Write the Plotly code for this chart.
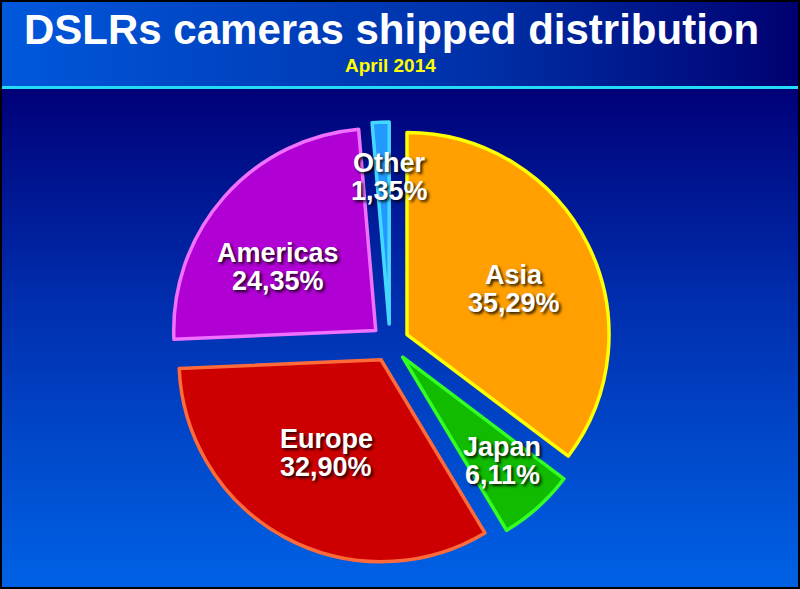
import math
import plotly.graph_objects as go

# ---------------- data ----------------
regions = ["Asia", "Japan", "Europe", "Americas", "Other"]
shares = [35.29, 6.11, 32.90, 24.35, 1.35]
share_labels = ["35,29%", "6,11%", "32,90%", "24,35%", "1,35%"]
title_text = "DSLRs cameras shipped distribution"
subtitle_text = "April 2014"

# ---------------- style ----------------
W, H = 800, 589
fill_colors = ["#FFA000", "#10BB00", "#CC0000", "#B000D4", "#2299FF"]
line_colors = ["#FFFF00", "#33FF22", "#FF6A3A", "#F070FF", "#44D8FF"]
CX, CY = 390, 343          # pie centre in pixels
R = 202                    # pie radius in pixels
PULL_PX = 19               # explode distance in pixels
pull = PULL_PX / R
# label placement: fraction of radius and small angular tweak (degrees)
label_r = [0.574, 0.713, 0.535, 0.579, 0.729]
label_dtheta = [3.2, -1.9, 2.1, -8.3, 2.4]
FONT = "Liberation Sans, Arial, sans-serif"

side = 2 * R * (1 + pull)
xc, yc = CX / W, 1 - CY / H
dom_x = [xc - side / W / 2, xc + side / W / 2]
dom_y = [yc - side / H / 2, yc + side / H / 2]

fig = go.Figure()

# background panels (gradients) on a hidden cartesian axis
fig.add_trace(go.Scatter(
    x=[0, W, W, 0, 0], y=[0, 0, 502, 502, 0], mode="lines", fill="toself",
    line=dict(width=0), hoverinfo="skip", showlegend=False,
    fillgradient=dict(type="vertical", colorscale=[[0, "#0062E6"], [0.55, "#0030B0"], [1, "#000078"]])))
fig.add_trace(go.Scatter(
    x=[0, W, W, 0, 0], y=[502, 502, H, H, 502], mode="lines", fill="toself",
    line=dict(width=0), hoverinfo="skip", showlegend=False,
    fillgradient=dict(type="horizontal", colorscale=[[0, "#0058DC"], [0.6, "#0030A8"], [1, "#000070"]])))

fig.add_trace(go.Pie(
    labels=regions, values=shares, sort=False, direction="clockwise", rotation=0,
    pull=[pull] * len(shares),
    marker=dict(colors=fill_colors, line=dict(color=line_colors, width=3.5)),
    textinfo="none", hoverinfo="label+percent", showlegend=False,
    domain=dict(x=dom_x, y=dom_y)))

# labels computed from the data
annotations = []
total = sum(shares)
cum = 0.0
for i, (name, v, lab) in enumerate(zip(regions, shares, share_labels)):
    mid = (cum + v / 2) / total * 360
    cum += v
    rad = math.radians(mid)
    ax = CX + PULL_PX * math.sin(rad)
    ay = CY - PULL_PX * math.cos(rad)
    rad2 = math.radians(mid + label_dtheta[i])
    px = ax + label_r[i] * R * math.sin(rad2)
    py = ay - label_r[i] * R * math.cos(rad2)
    for text, dy in ((name, -14), (lab, 14)):
        annotations.append(dict(
            x=px / W, y=1 - (py + dy) / H, xref="paper", yref="paper",
            text=text, showarrow=False, xanchor="center", yanchor="middle",
            font=dict(family=FONT, size=27, color="white", weight="bold",
                      shadow="2px 2px 3px rgba(0,0,0,0.85)")))

annotations.append(dict(x=391 / W, y=1 - 29.5 / H, xref="paper", yref="paper",
                        text=title_text, showarrow=False, xanchor="center", yanchor="middle",
                        font=dict(family=FONT, size=42, color="white", weight="bold")))
annotations.append(dict(x=390 / W, y=1 - 65 / H, xref="paper", yref="paper",
                        text=subtitle_text, showarrow=False, xanchor="center", yanchor="middle",
                        font=dict(family=FONT, size=19, color="#FFFF00", weight="bold")))

fig.update_layout(
    width=W, height=H, margin=dict(l=0, r=0, t=0, b=0),
    paper_bgcolor="#000080", plot_bgcolor="rgba(0,0,0,0)",
    xaxis=dict(range=[0, W], visible=False, fixedrange=True, domain=[0, 1]),
    yaxis=dict(range=[0, H], visible=False, fixedrange=True, domain=[0, 1]),
    annotations=annotations,
    shapes=[
        dict(type="line", xref="paper", yref="paper", x0=0, x1=1,
             y0=1 - 87.5 / H, y1=1 - 87.5 / H, line=dict(color="#22DDF5", width=3)),
        dict(type="rect", xref="paper", yref="paper", x0=0, x1=1, y0=0, y1=1,
             line=dict(color="black", width=4)),
    ],
)

fig.write_html("out.html", config=dict(displayModeBar=False),
               post_script="document.body.style.margin='0';document.body.style.overflow='hidden';")
